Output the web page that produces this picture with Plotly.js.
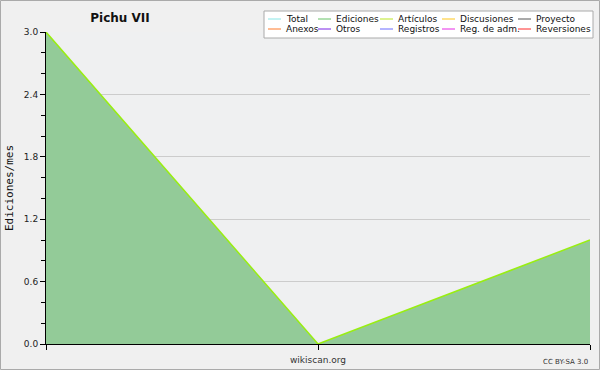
<!DOCTYPE html>
<html>
<head>
<meta charset="utf-8">
<script src="https://cdn.plot.ly/plotly-3.0.1.min.js"></script>
<style>
html,body{margin:0;padding:0;background:#f0f0f0;}
#chart{width:600px;height:370px;}
</style>
</head>
<body>
<div id="chart"></div>
<script>
// Data
const months = [0, 1, 2];
const ediciones = [3, 0, 1];
const articulos = [3, 0, 1];
const yTicks = [0, 0.6, 1.2, 1.8, 2.4, 3.0];
const yTickLabels = ['0.0', '0.6', '1.2', '1.8', '2.4', '3.0'];
const legendNames = ['Total', 'Ediciones', 'Artículos', 'Discusiones', 'Proyecto',
                     'Anexos', 'Otros', 'Registros', 'Reg. de adm.', 'Reversiones'];
const legendColors = ['#88e6e6', '#66c266', '#bbe622', '#ffc61a', '#555555',
                      '#ff7a2a', '#7a22e6', '#6a6aff', '#e62ae6', '#ff2a2a'];

const traces = [
  {x: months, y: ediciones, type: 'scatter', mode: 'lines', fill: 'tozeroy',
   fillcolor: '#93cb98', line: {color: '#93cb98', width: 0}, hoverinfo: 'skip', showlegend: false},
  {x: months, y: articulos, type: 'scatter', mode: 'lines',
   line: {color: '#99ee11', width: 1.5}, showlegend: false}
];

// manual legend (paper coordinates derived from pixel layout)
const W = 600, H = 370;
const colX = [268, 318, 380, 442, 518];
const rowY = [19, 29];
const shapes = [];
const annotations = [];
function px(x){ return (x - 46) / (590 - 46); }
function py(y){ return (344 - y) / (344 - 32); }
shapes.push({type: 'rect', xref: 'paper', yref: 'paper', layer: 'above',
  x0: px(264), x1: px(593), y0: py(38), y1: py(11),
  fillcolor: '#ffffff', line: {color: '#aaaaaa', width: 1}});
legendNames.forEach((name, i) => {
  const r = Math.floor(i / 5), c = i % 5;
  const x = colX[c], y = rowY[r];
  shapes.push({type: 'line', xref: 'paper', yref: 'paper', layer: 'above',
    x0: px(x), x1: px(x + 13), y0: py(y), y1: py(y),
    line: {color: legendColors[i], width: 1}});
  annotations.push({xref: 'paper', yref: 'paper', x: px(x + 16), y: py(y),
    xanchor: 'left', yanchor: 'middle', showarrow: false, text: name,
    font: {family: 'DejaVu Sans', size: 9, color: '#111'}});
});
annotations.push({xref: 'paper', yref: 'paper', x: px(318), y: py(360),
  xanchor: 'center', yanchor: 'middle', showarrow: false, text: 'wikiscan.org',
  font: {family: 'DejaVu Sans', size: 9, color: '#333'}});
annotations.push({xref: 'paper', yref: 'paper', x: px(590), y: py(362),
  xanchor: 'right', yanchor: 'middle', showarrow: false, text: 'CC BY-SA 3.0',
  font: {family: 'DejaVu Sans', size: 7, color: '#333'}});
// outer border
shapes.push({type: 'rect', xref: 'paper', yref: 'paper', layer: 'above',
  x0: px(0.5), x1: px(599.5), y0: py(369.5), y1: py(0.5),
  line: {color: '#aaaaaa', width: 1}});

const layout = {
  width: W, height: H,
  margin: {l: 46, r: 10, t: 32, b: 26},
  paper_bgcolor: '#f0f0f0',
  plot_bgcolor: '#eff0f1',
  title: {text: '<b>Pichu VII</b>', x: 120 / 600, xanchor: 'center', y: 1 - 18 / 370, yanchor: 'middle',
    font: {family: 'DejaVu Sans', size: 12, color: '#111'}},
  xaxis: {range: [0, 2], showgrid: false, zeroline: false, showline: true, linecolor: '#000',
    linewidth: 1, ticks: 'outside', ticklen: 5, tickcolor: '#000', tickvals: months,
    showticklabels: false, fixedrange: true},
  yaxis: {range: [0, 3], showgrid: true, gridcolor: '#cccccc', gridwidth: 1, zeroline: false,
    showline: true, linecolor: '#000', linewidth: 1, ticks: 'outside', ticklen: 5, tickcolor: '#000',
    tickvals: yTicks, ticktext: yTickLabels,
    tickfont: {family: 'DejaVu Sans', size: 9, color: '#222'},
    minor: {dtick: 0.2, ticks: 'outside', ticklen: 4, tickcolor: '#000', showgrid: false},
    title: {text: 'Ediciones/mes', standoff: 8, font: {family: 'DejaVu Sans Mono', size: 11, color: '#111'}},
    fixedrange: true},
  shapes: shapes,
  annotations: annotations,
  showlegend: false
};

Plotly.newPlot('chart', traces, layout, {displayModeBar: false, staticPlot: true});
</script>
</body>
</html>
